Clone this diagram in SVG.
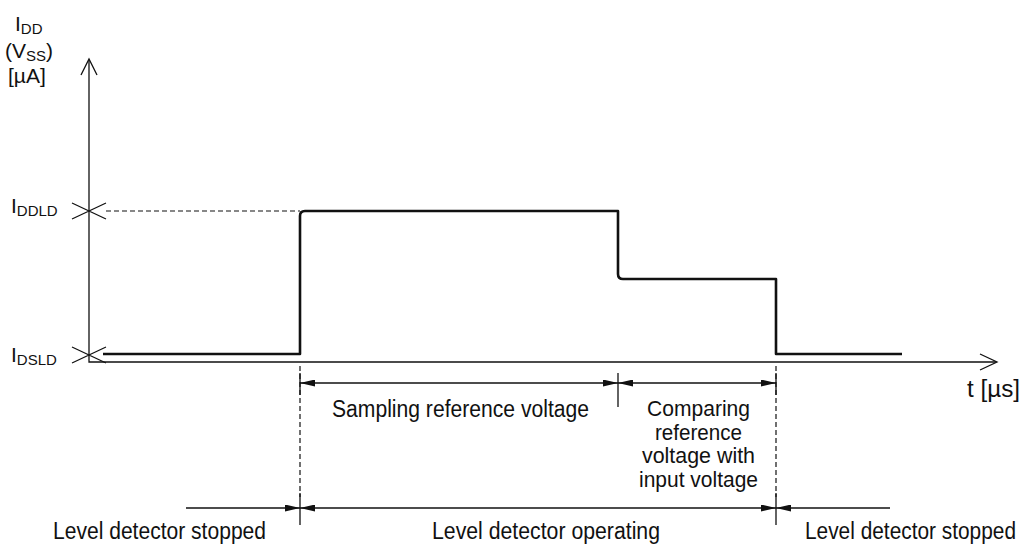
<svg xmlns="http://www.w3.org/2000/svg" width="1032" height="546" viewBox="0 0 1032 546">
<style>
text{font-family:"Liberation Sans","Roboto",Arial,sans-serif;font-size:23px;fill:#111}
.ax{font-size:21px}
.cmp{font-size:22px}
.sub{font-size:15px}
.thin{stroke:#111;stroke-width:1.3;fill:none}
.thick{stroke:#111;stroke-width:2.6;fill:none;stroke-linejoin:round}
.dash{stroke:#111;stroke-width:1.2;fill:none;stroke-dasharray:5,3}
</style>
<defs>
<marker id="ah" viewBox="0 0 15 7" refX="15" refY="3.5" markerWidth="15" markerHeight="7" markerUnits="userSpaceOnUse" orient="auto-start-reverse">
<path d="M0,0 L15,3.5 L0,7 Z" fill="#111"/>
</marker>
</defs>
<rect width="1032" height="546" fill="#fff"/>
<g id="axes">
<path class="thin" d="M89,60 V362 H996"/>
<path class="thin" d="M81,75 L89,59 L97,75"/>
<path class="thin" d="M980,354 L997,362 L980,370"/>
<path class="thin" d="M72,203 L106,219 M72,219 L106,203"/>
<path class="thin" d="M72,347 L106,363 M72,363 L106,347"/>
<path class="dash" d="M106,211 H300"/>
</g>
<g id="labels-y">
<text class="ax" x="15" y="31">I<tspan class="sub" dy="3">DD</tspan></text>
<text class="ax" x="5" y="58">(V<tspan class="sub" dy="3">SS</tspan><tspan dy="-3">)</tspan></text>
<text class="ax" x="8" y="83">[µA]</text>
<text class="ax" x="11" y="213">I<tspan class="sub" dy="3">DDLD</tspan></text>
<text class="ax" x="11" y="362">I<tspan class="sub" dy="3">DSLD</tspan></text>
<text x="967" y="397" textLength="53" lengthAdjust="spacingAndGlyphs">t [µs]</text>
</g>
<g id="waveform">
<path class="thick" d="M103,354 H300 V216 Q300,211 305,211 H618 V274 Q618,279 623,279 H776 V354 H902"/>
</g>
<g id="connectors">
<path class="dash" d="M300,366 V497"/>
<path class="dash" d="M776,366 V497"/>
<path class="thin" d="M300,373 V395 M618,373 V407 M776,373 V395"/>
<path class="thin" d="M300,493 V525 M776,493 V525"/>
<line class="thin" x1="300" y1="383" x2="618" y2="383" marker-start="url(#ah)" marker-end="url(#ah)"/>
<line class="thin" x1="618" y1="383" x2="776" y2="383" marker-start="url(#ah)" marker-end="url(#ah)"/>
<line class="thin" x1="186" y1="508" x2="300" y2="508" marker-end="url(#ah)"/>
<line class="thin" x1="300" y1="508" x2="776" y2="508" marker-start="url(#ah)" marker-end="url(#ah)"/>
<line class="thin" x1="890" y1="508" x2="776" y2="508" marker-end="url(#ah)"/>
</g>
<g id="label-sampling"><text x="332" y="417" textLength="257" lengthAdjust="spacingAndGlyphs">Sampling reference voltage</text></g>
<g id="label-comparing">
<text class="cmp" x="647" y="416" textLength="103" lengthAdjust="spacingAndGlyphs">Comparing</text>
<text class="cmp" x="655" y="440" textLength="87" lengthAdjust="spacingAndGlyphs">reference</text>
<text class="cmp" x="642" y="463" textLength="113" lengthAdjust="spacingAndGlyphs">voltage with</text>
<text class="cmp" x="639" y="487" textLength="119" lengthAdjust="spacingAndGlyphs">input voltage</text>
</g>
<g id="label-stopped-left"><text x="53" y="539" textLength="213" lengthAdjust="spacingAndGlyphs">Level detector stopped</text></g>
<g id="label-operating"><text x="432" y="539" textLength="228" lengthAdjust="spacingAndGlyphs">Level detector operating</text></g>
<g id="label-stopped-right"><text x="805" y="539" textLength="211" lengthAdjust="spacingAndGlyphs">Level detector stopped</text></g>
</svg>
